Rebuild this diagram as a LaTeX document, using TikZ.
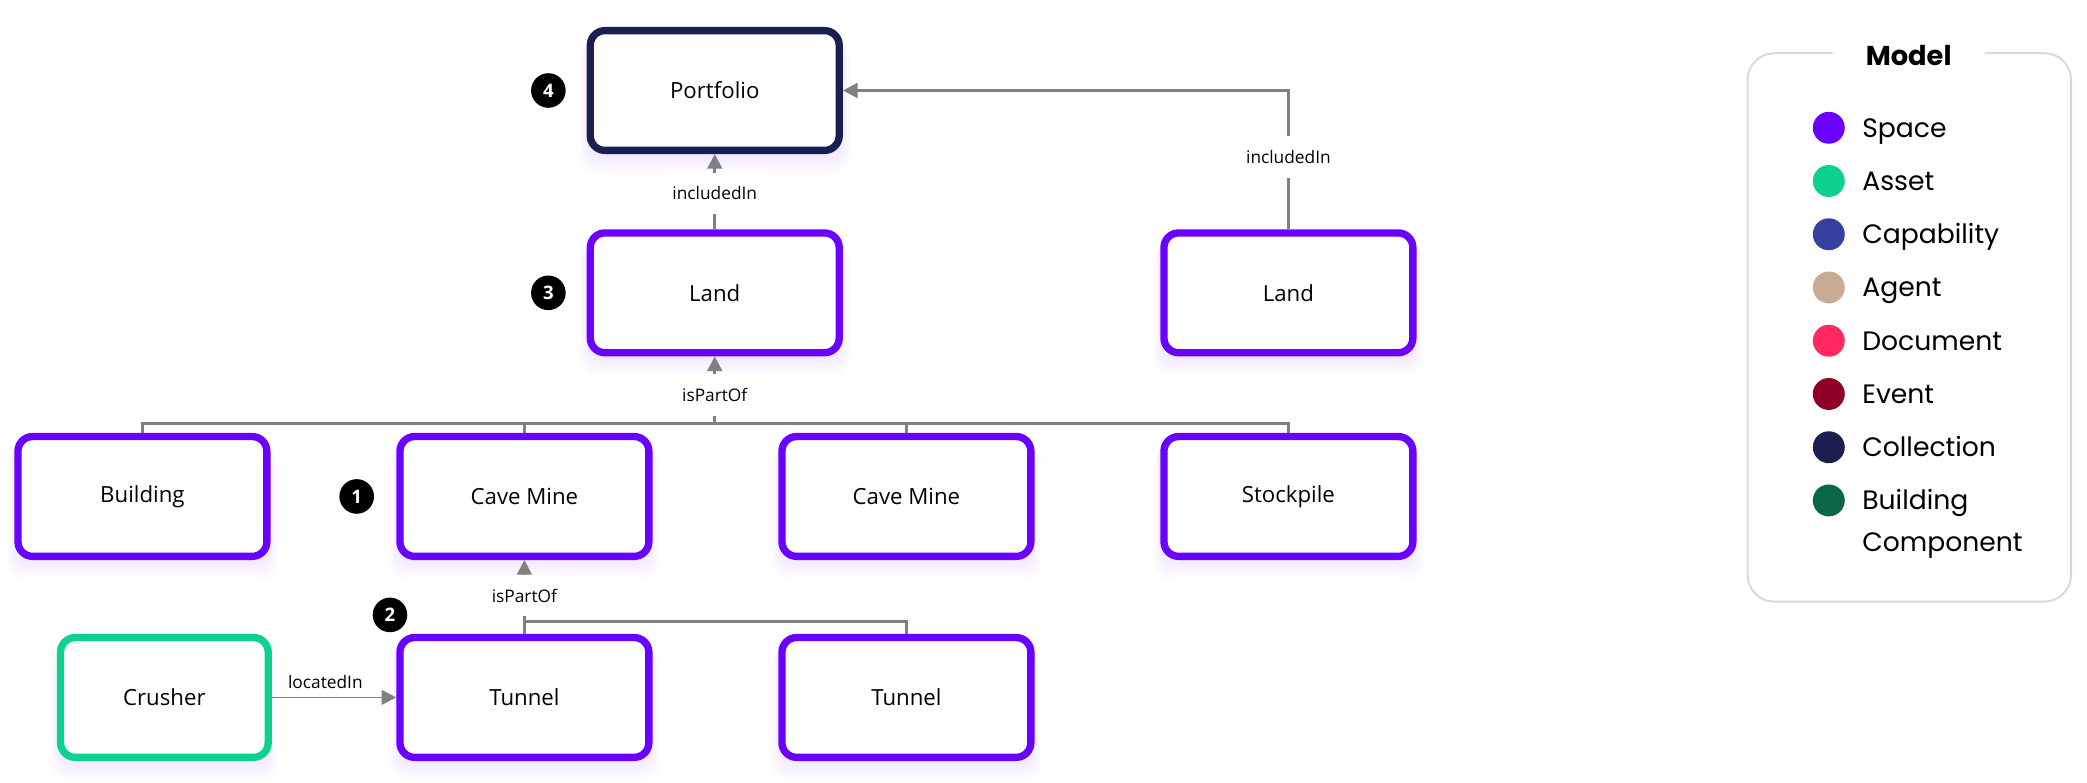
\documentclass[tikz,border=0pt]{standalone}
\usepackage{fontspec}
\setmainfont{Open Sans}
\newfontfamily\legendfont{Poppins}
\usetikzlibrary{arrows.meta,shadows}
\definecolor{cSpace}{HTML}{6A00FF}
\definecolor{cAsset}{HTML}{0DD18F}
\definecolor{cCap}{HTML}{373FA0}
\definecolor{cAgent}{HTML}{C9AB93}
\definecolor{cDoc}{HTML}{FF2860}
\definecolor{cEvent}{HTML}{8E0028}
\definecolor{cColl}{HTML}{1B1F4F}
\definecolor{cBComp}{HTML}{0A6647}
\definecolor{cEdge}{HTML}{808080}
\definecolor{cLegend}{HTML}{DADADA}
\tikzset{
  glow/.style={
    general shadow={fill=cSpace,opacity=0.010,shadow yshift=-13pt,shadow scale=1.09},
    general shadow={fill=cSpace,opacity=0.012,shadow yshift=-11pt,shadow scale=1.075},
    general shadow={fill=cSpace,opacity=0.014,shadow yshift=-9pt,shadow scale=1.06},
    general shadow={fill=cSpace,opacity=0.016,shadow yshift=-7pt,shadow scale=1.045},
    general shadow={fill=cSpace,opacity=0.018,shadow yshift=-5pt,shadow scale=1.03},
    general shadow={fill=cSpace,opacity=0.02,shadow yshift=-3pt,shadow scale=1.015}},
  entity/.style={draw=#1, line width=5.5pt, rounded corners=11pt, fill=white,
    minimum width=187pt, minimum height=90pt, text=black,
    font=\fontsize{16.7}{20}\selectfont, glow},
  badge/.style={circle, fill=black, text=white, minimum size=26pt, inner sep=0pt,
    font=\bfseries\fontsize{14}{14}\selectfont},
  edge/.style={draw=cEdge, line width=2pt},
  arr/.style={edge, -{Triangle[length=11pt,width=11pt]}},
  lbl/.style={fill=white, inner xsep=8pt, inner ysep=10.5pt, text=black,
    font=\fontsize{13}{15}\selectfont},
  legtext/.style={anchor=base west, inner sep=0pt, text=black,
    font=\legendfont\fontsize{20}{24}\selectfont},
}
\begin{document}
\begin{tikzpicture}[x=1pt,y=-1pt]
\useasboundingbox (0,0) rectangle (1568,588);

% entities
\node[entity=cColl] (portfolio) at (537,68) {Portfolio};
\node[entity=cSpace] (land1) at (537,220) {Land};
\node[entity=cSpace] (land2) at (968,220) {Land};
\node[entity=cSpace] (building) at (107,373) {Building};
\node[entity=cSpace] (cave1) at (394,373) {Cave Mine};
\node[entity=cSpace] (cave2) at (681,373) {Cave Mine};
\node[entity=cSpace] (stock) at (968,373) {Stockpile};
\node[entity=cAsset, minimum width=156pt] (crusher) at (123.5,524) {Crusher};
\node[entity=cSpace] (tunnel1) at (394,524) {Tunnel};
\node[entity=cSpace] (tunnel2) at (681,524) {Tunnel};

% badges
\node[badge] (b4) at (412,68) {4};
\node[badge] (b3) at (412,220) {3};
\node[badge] (b1) at (268,373) {1};
\node[badge] (b2) at (293,462) {2};

% connectors
\draw[arr] (land1.north) -- node[lbl, pos=0.48] (l1) {includedIn} (portfolio.south);
\draw[arr] (land2.north) |- node[lbl, pos=0.26] (l2) {includedIn} (portfolio.east);

\coordinate (bus3) at (537,318);
\draw[edge] (building.north) -- (building.north |- bus3) -- (stock.north |- bus3) -- (stock.north);
\draw[edge] (cave1.north) -- (cave1.north |- bus3);
\draw[edge] (cave2.north) -- (cave2.north |- bus3);
\draw[arr] (bus3) -- node[lbl, pos=0.42] (l3) {isPartOf} (land1.south);

\coordinate (bus4) at (394,467);
\draw[edge] (tunnel1.north) -- (tunnel1.north |- bus4) -- (tunnel2.north |- bus4) -- (tunnel2.north);
\draw[arr] (tunnel1.north) -- node[lbl, pos=0.52] (l4) {isPartOf} (cave1.south);

\draw[arr, line width=1.3pt] (crusher.east) -- node[lbl, above, pos=0.43, inner ysep=6pt] (l5) {locatedIn} (tunnel1.west);

% legend
\draw[cLegend, line width=1.5pt, rounded corners=20pt] (1313,40) rectangle (1556,452);
\node[fill=white, minimum width=114pt, inner ysep=2pt, text=black,
      font=\legendfont\bfseries\fontsize{20.5}{24}\selectfont] (legtitle) at (1434,42) {Model};
\foreach \c/\t [count=\i from 0] in {cSpace/Space, cAsset/Asset, cCap/Capability, cAgent/Agent, cDoc/Document, cEvent/Event, cColl/Collection, cBComp/Building}{
  \fill[\c] (1374,96+40*\i) circle (12pt);
  \node[legtext] (leg\i) at (1399,103+40*\i) {\t};
}
\node[legtext] (leg8) at (1399,414) {Component};
\end{tikzpicture}
\end{document}
